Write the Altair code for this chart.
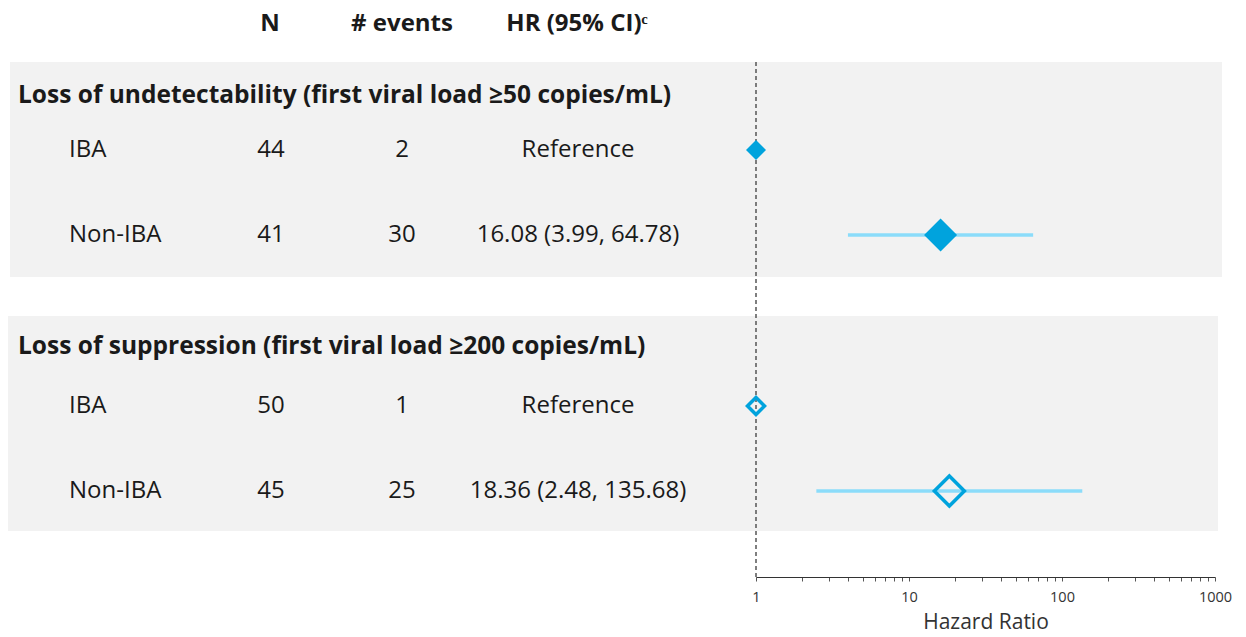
import altair as alt
import pandas as pd

# ---------------- data ----------------
headers = ["N", "# events", "HR (95% CI)ᶜ"]
sections = [
    "Loss of undetectability (first viral load ≥50 copies/mL)",
    "Loss of suppression (first viral load ≥200 copies/mL)",
]
row_section = [0, 0, 1, 1]
arms = ["IBA", "Non-IBA", "IBA", "Non-IBA"]
n_vals = [44, 41, 50, 45]
events = [2, 30, 1, 25]
hr = [1.0, 16.08, 1.0, 18.36]
ci_lo = [None, 3.99, None, 2.48]
ci_hi = [None, 64.78, None, 135.68]
is_ref = [True, False, True, False]
x_ticks = [1, 2, 3, 4, 5, 6, 7, 8, 9,
           10, 20, 30, 40, 50, 60, 70, 80, 90,
           100, 200, 300, 400, 500, 600, 700, 800, 900, 1000]
x_labels = [1, 10, 100, 1000]

# ---------------- layout (chart pixel units) ----------------
W, H = 1230, 569
HEADER_Y = 16
SECTION_Y = [88, 339]
ROW_Y = [142, 227, 398, 483]
BAND_Y = [(54, 269), (308, 523)]
BAND_X = [(2, 1214), (0, 1210)]
COL_X = {"arm": 61, "n": 263, "events": 394, "hr": 570}
HEADER_X = [262, 394, 569]
TITLE_X = 10
FOREST_RANGE = [748, 1207]
REF_LINE = (54, H)

FONT = "Open Sans"
TXT = "#1a1a1a"
BLUE = "#00a3dd"
LIGHT = "#8bdcfa"
BAND = "#f2f2f2"


def hr_label(i):
    if is_ref[i]:
        return "Reference"
    return f"{hr[i]:.2f} ({ci_lo[i]:.2f}, {ci_hi[i]:.2f})"


rows = pd.DataFrame({
    "section": row_section,
    "arm": arms,
    "n": [str(v) for v in n_vals],
    "events": [str(v) for v in events],
    "hr": hr,
    "lo": ci_lo,
    "hi": ci_hi,
    "ref": is_ref,
    "hrtxt": [hr_label(i) for i in range(len(arms))],
    "y": ROW_Y,
})
sec_df = pd.DataFrame({"title": sections, "y": SECTION_Y})
head_df = pd.DataFrame({"h": headers, "y": [HEADER_Y] * len(headers)})
bands_df = pd.DataFrame({"top": [b[0] for b in BAND_Y], "bot": [b[1] for b in BAND_Y]})
refline_df = pd.DataFrame({"ref": [1.0], "top": [REF_LINE[0]], "bot": [REF_LINE[1]]})

yscale = alt.Scale(domain=[0, H], range=[0, H], nice=False, zero=False)
xscale = alt.Scale(type="log", domain=[1, 1000], range=FOREST_RANGE, nice=False)
XT = "Hazard Ratio"
label_list = ",".join(str(v) for v in x_labels)
xaxis = alt.Axis(values=x_ticks,
                 labelExpr="indexof([" + label_list + "], datum.value) >= 0 ? format(datum.value, 'd') : ''",
                 labelOverlap=False, labelFlush=False,
                 tickSize=4, tickColor="#555555", domainColor="#333333",
                 labelFontSize=14.5, labelColor="#333333", labelPadding=9,
                 labelFont=FONT, titleFont=FONT, titleFontSize=21,
                 titleFontWeight="normal", titleColor="#333333",
                 titlePadding=8, grid=False)


def X(field):
    return alt.X(field, scale=xscale, title=XT, axis=xaxis)


layers = []

# background bands
for i, (x0, x1) in enumerate(BAND_X):
    layers.append(
        alt.Chart(bands_df.iloc[[i]]).mark_rect(color=BAND).encode(
            x=alt.value(x0), x2=alt.value(x1),
            y=alt.Y("top:Q", scale=yscale, axis=None), y2="bot:Q",
        )
    )

# dashed reference line at HR = 1
layers.append(
    alt.Chart(refline_df).mark_rule(color="#555555", strokeDash=[4, 3], strokeWidth=1.5).encode(
        x=X("ref:Q"),
        y=alt.Y("top:Q", scale=yscale, axis=None), y2="bot:Q",
    )
)

# CI lines
layers.append(
    alt.Chart(rows).transform_filter("datum.lo != null").mark_rule(
        color=LIGHT, strokeWidth=3.5).encode(
        x=X("lo:Q"), x2="hi:Q",
        y=alt.Y("y:Q", scale=yscale, axis=None),
    )
)

# filled diamonds (section 0)
layers.append(
    alt.Chart(rows).transform_filter("datum.section == 0").mark_point(
        shape="diamond", filled=True, color=BLUE, opacity=1).encode(
        x=X("hr:Q"),
        y=alt.Y("y:Q", scale=yscale, axis=None),
        size=alt.condition("datum.ref", alt.value(400), alt.value(1090)),
    )
)

# hollow diamonds (section 1)
layers.append(
    alt.Chart(rows).transform_filter("datum.section == 1").mark_point(
        shape="diamond", filled=False, color=BLUE, opacity=1, strokeWidth=3.5).encode(
        x=X("hr:Q"),
        y=alt.Y("y:Q", scale=yscale, axis=None),
        size=alt.condition("datum.ref", alt.value(290), alt.value(900)),
    )
)

# header texts
for i, hx in enumerate(HEADER_X):
    layers.append(
        alt.Chart(head_df.iloc[[i]]).mark_text(
            font=FONT, fontSize=24, fontWeight="bold", color=TXT, align="center", baseline="middle").encode(
            x=alt.value(hx), y=alt.Y("y:Q", scale=yscale, axis=None), text="h:N",
        )
    )

# section titles
layers.append(
    alt.Chart(sec_df).mark_text(
        font=FONT, fontSize=24.5, fontWeight="bold", color=TXT, align="left", baseline="middle").encode(
        x=alt.value(TITLE_X), y=alt.Y("y:Q", scale=yscale, axis=None), text="title:N",
    )
)

# row columns
for col, field, align in [("arm", "arm", "left"), ("n", "n", "center"),
                          ("events", "events", "center"), ("hr", "hrtxt", "center")]:
    layers.append(
        alt.Chart(rows).mark_text(
            font=FONT, fontSize=24, color=TXT, align=align, baseline="middle").encode(
            x=alt.value(COL_X[col]), y=alt.Y("y:Q", scale=yscale, axis=None), text=f"{field}:N",
        )
    )

chart = alt.layer(*layers).properties(
    width=W, height=H, padding={"left": 0, "top": 0, "right": 0, "bottom": 0},
    background="white",
).configure_view(stroke=None)

chart.save("out.html", embed_options={"renderer": "svg", "actions": False})
